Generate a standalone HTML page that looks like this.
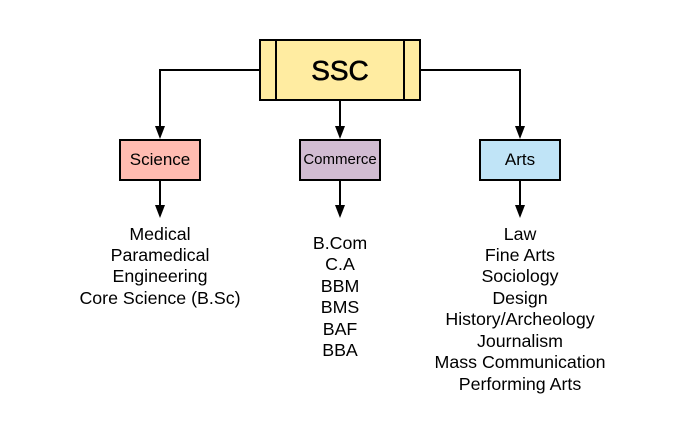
<!DOCTYPE html>
<html><head><style>
body{margin:0;background:#fff;}
svg text{font-family:"Liberation Sans",Arial,sans-serif;fill:#000;}
</style></head><body>
<svg width="680" height="440" xmlns="http://www.w3.org/2000/svg">
<g stroke="#000" stroke-width="2" fill="none">
<polyline points="260,70 160,70 160,127" />
<polyline points="420,70 520,70 520,127" />
<line x1="340" y1="100" x2="340" y2="127"/>
<line x1="160" y1="180" x2="160" y2="206"/>
<line x1="340" y1="180" x2="340" y2="206"/>
<line x1="520" y1="180" x2="520" y2="206"/>
</g>
<g fill="#000">
<path d="M155,126 L165,126 L160,139 z"/>
<path d="M335,126 L345,126 L340,139 z"/>
<path d="M515,126 L525,126 L520,139 z"/>
<path d="M155,205 L165,205 L160,218 z"/>
<path d="M335,205 L345,205 L340,218 z"/>
<path d="M515,205 L525,205 L520,218 z"/>
</g>
<rect x="260" y="40" width="160" height="60" fill="#ffeca1" stroke="#000" stroke-width="2"/>
<line x1="276" y1="40" x2="276" y2="100" stroke="#000" stroke-width="2"/>
<line x1="404" y1="40" x2="404" y2="100" stroke="#000" stroke-width="2"/>
<text x="340" y="80" font-size="28" text-anchor="middle" stroke="#000" stroke-width="0.6">SSC</text>
<rect x="120" y="140" width="80" height="40" fill="#ffbbb1" stroke="#000" stroke-width="2"/>
<text x="160" y="165" font-size="17" text-anchor="middle">Science</text>
<rect x="300" y="140" width="80" height="40" fill="#d1bcd2" stroke="#000" stroke-width="2"/>
<text x="340" y="164" font-size="15" text-anchor="middle">Commerce</text>
<rect x="480" y="140" width="80" height="40" fill="#c0e4f7" stroke="#000" stroke-width="2"/>
<text x="520" y="165" font-size="17" text-anchor="middle">Arts</text>
<g font-size="17.8" text-anchor="middle">
<text x="160" y="240">Medical</text>
<text x="160" y="261">Paramedical</text>
<text x="160" y="282">Engineering</text>
<text x="160" y="304">Core Science (B.Sc)</text>
<text x="340" y="249">B.Com</text>
<text x="340" y="270">C.A</text>
<text x="340" y="292">BBM</text>
<text x="340" y="313">BMS</text>
<text x="340" y="335">BAF</text>
<text x="340" y="356">BBA</text>
<text x="520" y="240">Law</text>
<text x="520" y="261">Fine Arts</text>
<text x="520" y="282">Sociology</text>
<text x="520" y="304">Design</text>
<text x="520" y="325">History/Archeology</text>
<text x="520" y="347">Journalism</text>
<text x="520" y="368">Mass Communication</text>
<text x="520" y="390">Performing Arts</text>
</g>
</svg>
</body></html>
